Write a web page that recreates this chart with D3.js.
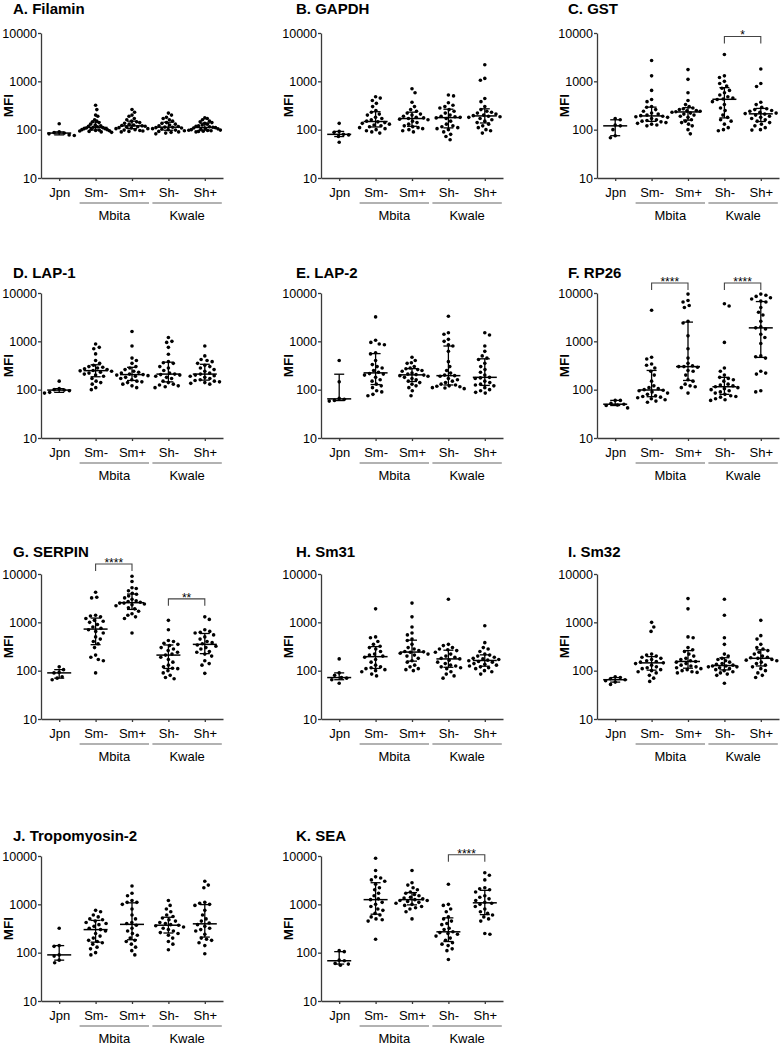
<!DOCTYPE html>
<html><head><meta charset="utf-8">
<script src="https://cdn.jsdelivr.net/npm/d3@7"></script>
<style>body{margin:0;background:#fff}svg{display:block}text{font-family:"Liberation Sans",Arial,sans-serif}</style>
</head><body><svg id="c" width="782" height="1045"></svg>
<script>
const groups = ["Jpn","Sm-","Sm+","Sh-","Sh+"];
const regions = ["Mbita","Kwale"];
const yTicks = [10,100,1000,10000];
const titles = ["A. Filamin","B. GAPDH","C. GST","D. LAP-1","E. LAP-2","F. RP26","G. SERPIN","H. Sm31","I. Sm32","J. Tropomyosin-2","K. SEA"];

const filamin = [
 [76,78,82,85,87,90,133],
 [320,260,200,190,160,150,145,140,130,125,120,118,115,112,110,108,105,102,100,98,96,94,92,90,88,95,100,105],
 [262,230,200,190,170,160,150,145,140,135,130,125,122,120,118,115,112,108,105,100,98,96,94,92,90,105,110],
 [220,200,180,170,160,150,140,135,130,125,120,116,113,112,110,108,105,102,100,98,95,92,90,88,85,82],
 [175,170,160,150,145,140,135,130,125,120,118,115,112,110,108,106,104,102,100,98,97,96,95,93,92,90]];
const gapdh = [
 [135,92,88,80,78,72,55],
 [480,450,400,350,300,250,230,210,200,180,170,160,150,145,140,135,130,125,120,115,110,105,100,95,90,85],
 [700,580,370,300,260,240,220,210,200,190,180,175,170,165,160,150,140,130,120,115,110,105,100,95,90],
 [520,500,360,320,300,280,260,240,220,200,190,185,180,175,170,150,130,120,115,110,105,100,90,80,72,62],
 [2200,1150,1050,440,380,300,260,240,230,220,210,200,195,190,185,180,170,160,150,140,130,120,110,100,95,85]];
const gst = [
 [170,160,125,120,100,75,68],
 [2700,1300,650,420,380,300,290,260,240,220,210,200,195,190,185,180,170,160,155,150,145,140,135,130,125,120],
 [1750,1100,580,400,330,300,280,270,260,250,245,240,235,230,220,210,200,190,180,160,150,140,130,120,100,82],
 [3600,1300,1200,1000,900,800,720,650,580,520,480,450,430,420,380,330,280,250,200,180,160,150,130,110,100,95],
 [1800,900,780,370,330,290,270,260,250,240,230,220,215,210,200,190,180,170,160,150,140,130,120,110,100,98]];
const lap1 = [
 [150,105,100,98,95,88,85],
 [880,750,700,550,400,350,320,300,290,280,270,260,250,245,240,230,220,210,200,190,170,150,140,130,110,100],
 [1600,800,450,400,350,300,280,260,240,230,220,210,205,200,195,190,180,170,160,150,145,140,130,120,110],
 [1200,1000,950,750,540,380,360,350,300,280,250,220,210,205,200,190,180,170,150,140,130,125,120,115,110],
 [800,500,420,400,380,350,320,300,280,260,240,220,210,200,195,190,180,170,160,155,150,145,140,135,130]];
const lap2 = [
 [400,145,66,63,60,58],
 [3200,1050,950,880,850,580,550,400,330,300,280,250,230,215,210,200,180,160,150,130,120,110,95,90,80,75],
 [470,400,360,350,300,280,270,260,250,240,220,210,205,200,195,190,180,170,160,150,140,130,120,110,95,75],
 [3300,1500,1400,1100,1000,850,800,620,380,300,250,220,200,195,190,170,160,150,140,130,125,120,118,115,110,108,105],
 [1500,1350,800,620,500,450,420,350,300,260,230,200,180,175,170,150,140,130,125,120,110,100,95,88,85]];
const rp26 = [
 [60,60,52,50,48,47,42],
 [4400,470,430,340,320,280,240,200,150,120,110,105,100,97,95,90,85,80,75,72,70,68,65,62,58,55],
 [85,110,115,120,130,150,160,200,240,250,290,300,300,310,350,450,700,1300,2400,2600,5000,5500,6500,7000,9500],
 [60,62,65,70,72,75,80,85,90,95,100,105,110,115,120,125,130,150,160,170,180,200,240,280,950,5400,6000],
 [90,95,210,220,240,450,480,500,900,1200,1400,1800,1900,2000,2600,3500,4000,5000,6500,6800,7500,8000,8500,9000,9500]];
const serpin = [
 [120,105,92,90,75,70,65],
 [90,160,170,190,210,300,360,400,450,500,600,650,700,750,800,900,1000,1050,1100,1200,1300,1350,1400,3200,3300,4200],
 [600,1200,1300,1400,1500,1700,1900,2000,2200,2300,2400,2500,2500,2600,2700,2800,3000,3200,3500,3800,4000,4500,5000,5200,7000,9000],
 [68,72,80,90,100,110,112,120,130,150,170,190,210,220,240,260,280,300,330,350,370,400,420,700,1100],
 [88,130,140,160,200,220,240,250,280,300,320,340,360,380,400,450,500,550,600,620,650,700,1150,1300]];
const sm31 = [
 [175,90,80,72,70,65,55],
 [78,85,95,100,105,110,115,120,130,150,170,190,200,210,220,250,280,300,320,350,400,480,500,1900],
 [100,105,110,120,130,150,160,180,200,210,220,230,240,245,250,260,280,300,350,420,450,550,600,800,1300,2500],
 [70,78,85,95,110,115,120,125,130,140,150,165,175,180,190,200,220,240,260,270,280,300,330,350,3000],
 [85,95,100,110,115,120,125,130,135,140,150,155,160,165,170,175,180,190,200,210,220,250,280,300,380,850]];
const sm32 = [
 [75,72,68,65,62,58,52],
 [60,70,80,90,95,100,105,110,115,120,130,140,145,150,155,160,170,180,190,200,210,220,650,800,1000],
 [90,92,95,100,105,110,115,120,125,130,140,150,155,160,170,180,200,220,250,270,300,480,500,1900,3100],
 [55,80,85,90,95,100,105,110,115,120,120,125,125,130,135,140,150,160,170,180,200,220,350,480,1400,3000],
 [72,80,90,100,110,120,130,140,150,160,165,170,180,185,190,200,220,240,260,280,300,350,450,530,1100]];
const tropomyosin = [
 [320,140,135,90,85,70,62],
 [90,100,120,130,150,160,170,180,200,220,250,280,300,320,350,380,400,420,450,480,500,550,600,700,750],
 [90,110,130,150,170,180,200,230,250,280,320,370,400,420,500,600,800,1000,1100,1100,1200,1500,1700,2400],
 [115,150,170,200,230,250,260,280,300,320,340,360,370,380,400,420,450,480,520,560,600,700,800,950,1200],
 [95,140,160,180,190,200,240,280,300,320,350,380,410,450,500,600,750,950,1000,1050,1100,2200,2500,3000]];
const sea = [
 [110,105,70,68,60,58,55],
 [190,450,480,500,550,600,650,750,800,900,1000,1100,1250,1300,1500,1700,2000,2200,2600,3000,3200,3500,3700,5000,9000],
 [500,700,800,850,900,950,1000,1050,1100,1150,1200,1200,1250,1300,1350,1400,1500,1600,1700,1800,2000,2200,2500,2800,5000],
 [72,110,120,140,150,160,180,200,220,240,250,260,270,300,320,380,400,450,500,550,700,800,950,1000,2600],
 [240,250,450,500,550,600,650,700,800,900,1000,1050,1100,1200,1300,1400,1500,1800,2000,2100,2200,3200,4000,4500]];

const panelData = [filamin,gapdh,gst,lap1,lap2,rp26,serpin,sm31,sm32,tropomyosin,sea];
// significance comparisons: [groupA, groupB, label]
const sigs = [[],[],[[3,4,"*"]],[],[],[[1,2,"****"],[3,4,"****"]],[[1,2,"****"],[3,4,"**"]],[],[],[],[[3,4,"****"]]];

// ---- layout ----
const colAxisX = [41,321,597];
const colTitleX = [13,296,568];
const rowTop = [33,293,574,856];
const rowTitleY = [14,278,557,841];
const plotH = 145, plotW = 182;
const axisCol = "#3a3a3a";
const maxHalfWidth = 16;

const svg = d3.select("#c");

function gq(s,p){const n=s.length;const pos=p*(n+1);if(pos<=1)return s[0];if(pos>=n)return s[n-1];const i=Math.floor(pos);return s[i-1]+(pos-i)*(s[i]-s[i-1]);}

function swarm(vals,y,d){
  const pts=vals.map(v=>({v,y:y(v)})).sort((a,b)=>a.y-b.y);
  const placed=[];let flip=1;
  for(const p of pts){
    const near=placed.filter(q=>Math.abs(q.y-p.y)<d);
    const c=[0];
    for(const q of near){const w=Math.sqrt(d*d-(q.y-p.y)**2);c.push(q.x-w,q.x+w);}
    c.sort((a,b)=>(Math.abs(a)-Math.abs(b))||(a-b)*flip);
    for(const x of c){if(near.every(q=>(q.x-x)**2+(q.y-p.y)**2>=d*d-1e-6)){p.x=x;break;}}
    flip=-flip;
    placed.push(p);
  }
  const m=d3.max(placed,p=>Math.abs(p.x));
  if(m>maxHalfWidth){const k=maxHalfWidth/m;placed.forEach(p=>p.x*=k);}
  return placed;
}

panelData.forEach((data,i)=>{
  const row=Math.floor(i/3),col=i%3;
  const ax=colAxisX[col],top=rowTop[row];
  const g=svg.append("g").attr("transform",`translate(${ax},${top})`);
  svg.append("text").attr("x",colTitleX[col]).attr("y",rowTitleY[row]).attr("font-size",15).attr("font-weight","bold").text(titles[i]);
  const y=d3.scaleLog().domain([10,10000]).range([plotH,0]);
  const x=d3.scalePoint().domain(groups).range([0,plotW]).padding(0.5);

  const ya=g.append("g").call(d3.axisLeft(y).tickValues(yTicks).tickFormat(d3.format("d")).tickSize(3).tickSizeOuter(0).tickPadding(1));
  ya.selectAll("text").attr("font-size",12.5).attr("fill","#000").style("font-family","Liberation Sans, Arial, sans-serif");
  ya.selectAll("path,line").attr("stroke",axisCol).attr("stroke-width",1.3);
  const xa=g.append("g").attr("transform",`translate(0,${plotH})`).call(d3.axisBottom(x).tickSize(3).tickSizeOuter(0).tickPadding(7));
  xa.selectAll("text").attr("font-size",13).attr("fill","#000").style("font-family","Liberation Sans, Arial, sans-serif");
  xa.selectAll("path,line").attr("stroke",axisCol).attr("stroke-width",1.3);

  g.append("text").attr("transform",`translate(-28,${plotH/2}) rotate(-90)`).attr("text-anchor","middle").attr("font-size",13.5).attr("font-weight","bold").text("MFI");

  // region group lines
  [[1,2],[3,4]].forEach((pr,k)=>{
    const x0=x(groups[pr[0]])-16,x1=x(groups[pr[1]])+17;
    g.append("line").attr("x1",x0).attr("x2",x1).attr("y1",plotH+25).attr("y2",plotH+25).attr("stroke","#666").attr("stroke-width",1.2);
    g.append("text").attr("x",(x0+x1)/2).attr("y",plotH+42).attr("text-anchor","middle").attr("font-size",13).text(regions[k]);
  });

  data.forEach((vals,j)=>{
    const cx=x(groups[j]);
    const pts=swarm(vals,y,5.2);
    g.append("g").selectAll("circle").data(pts).join("circle").attr("cx",d=>cx+d.x).attr("cy",d=>d.y).attr("r",1.8).attr("fill","#000");
    const s=vals.slice().sort((a,b)=>a-b);
    const med=gq(s,0.5),q1=gq(s,0.25),q3=gq(s,0.75);
    const L=g.append("g").attr("stroke","#000").attr("stroke-width",1.3);
    L.append("line").attr("x1",cx).attr("x2",cx).attr("y1",y(q1)).attr("y2",y(q3));
    L.append("line").attr("x1",cx-5).attr("x2",cx+5).attr("y1",y(q1)).attr("y2",y(q1));
    L.append("line").attr("x1",cx-5).attr("x2",cx+5).attr("y1",y(q3)).attr("y2",y(q3));
    L.append("line").attr("x1",cx-12).attr("x2",cx+12).attr("y1",y(med)).attr("y2",y(med)).attr("stroke-width",1.5);
  });

  sigs[i].forEach(([a,b,lab])=>{
    const mx=Math.max(d3.max(data[a]),d3.max(data[b]));
    const by=Math.max(y(mx)-18,-10);
    const xa0=x(groups[a]),xb0=x(groups[b]);
    g.append("path").attr("d",`M${xa0},${by+7}V${by}H${xb0}V${by+7}`).attr("fill","none").attr("stroke","#444").attr("stroke-width",1.1);
    g.append("text").attr("x",(xa0+xb0)/2).attr("y",by+3).attr("text-anchor","middle").attr("font-size",12).text(lab);
  });
});
</script></body></html>
